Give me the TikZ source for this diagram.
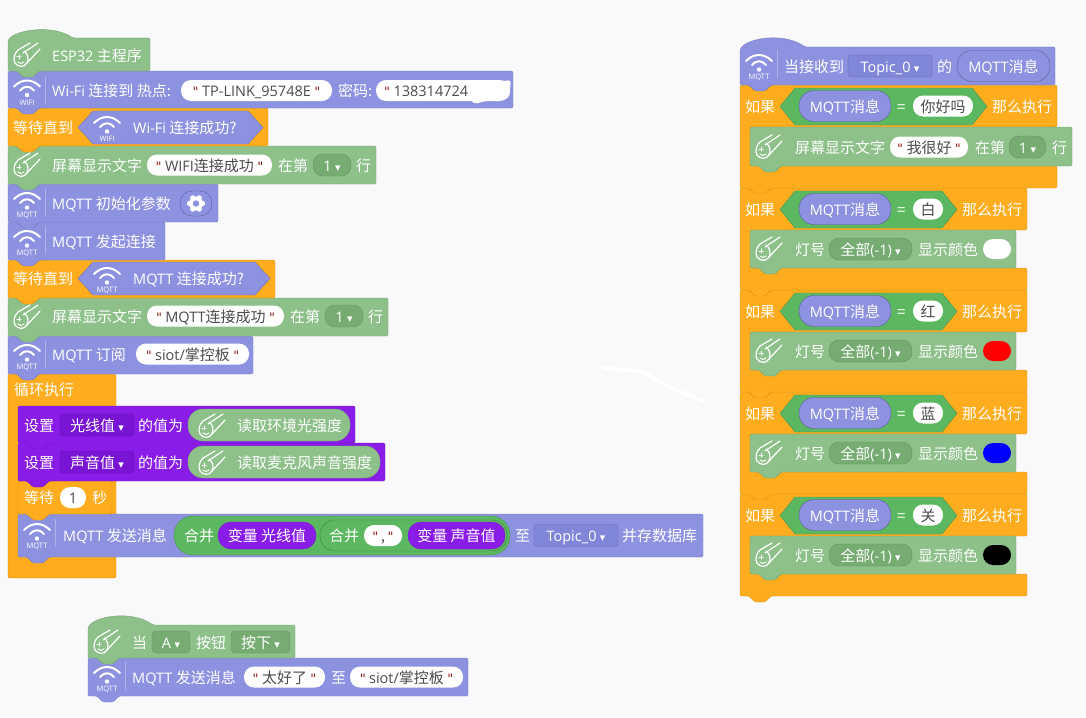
\documentclass[tikz,border=0pt]{standalone}
\usepackage{fontspec}
\setmainfont{Noto Sans CJK SC}
\newfontfamily\symfont{DejaVu Sans}
\newfontfamily\latfont{Open Sans}
\usepackage{tikz}

\definecolor{pagebg}{RGB}{249,249,251}
\definecolor{greenblk}{RGB}{141,193,137}
\definecolor{greenmenu}{RGB}{118,172,113}
\definecolor{blueblk}{RGB}{140,146,224}
\definecolor{bluemenu}{RGB}{128,134,216}
\definecolor{orangeblk}{RGB}{255,173,30}
\definecolor{purpleblk}{RGB}{138,28,232}
\definecolor{purplemenu}{RGB}{122,20,212}
\definecolor{hexgreen}{RGB}{92,184,96}
\definecolor{fieldtext}{RGB}{75,75,80}
\definecolor{quotemark}{RGB}{150,30,30}

\tikzset{
	tb/.style={inner sep=0pt,text height=13pt,text depth=1pt},
	lbl/.style={tb,anchor=west,text=white},
	field/.style={tb,fill=white,text=fieldtext,rounded corners=10pt,minimum height=21pt},
	gmenu/.style={tb,fill=greenmenu,draw=greenmenu!85!black,text=white,rounded corners=10pt,minimum height=22pt},
	bmenu/.style={tb,fill=bluemenu,draw=bluemenu!80!black,text=white,rounded corners=3pt,minimum height=22pt},
	pmenu/.style={tb,fill=purplemenu,draw=purplemenu!80!black,text=white,rounded corners=3pt,minimum height=22pt},
	bpill/.style={tb,fill=blueblk,draw=bluemenu!70!black,text=white,rounded corners=15pt,minimum height=31pt},
	gpill/.style={tb,fill=greenblk,draw=greenmenu,text=white,rounded corners=15pt,minimum height=32pt},
	ppill/.style={tb,fill=purpleblk,draw=purplemenu,text=white,rounded corners=13pt,minimum height=27pt},
	icon/.style={white,line cap=round,line join=round},
}

% latin words, field text with its two quote marks, menu arrow
\newcommand{\la}[1]{{\latfont\fontsize{14.5}{17}\selectfont #1}}
\newcommand{\qm}{{\symfont\fontsize{13}{13}\selectfont\color{quotemark}"}}
\newcommand{\qt}[1]{\qm\ #1\ \qm}
\newcommand{\dn}{{\symfont\fontsize{11}{11}\selectfont ▾}}

% stack block: colour, x1, y1, x2, y2
\newcommand{\stackblock}[5]{
	\draw[fill=#1,draw=#1!85!black,rounded corners=1.5pt] (#2,#3) -- (#4,#3) -- (#4,#5) -- (#2+31,#5) -- (#2+25,#5+6) -- (#2+15,#5+6) -- (#2+9,#5) -- (#2,#5) -- cycle;
}
% hat block: colour, x1, top of hat, y1, x2, y2
\newcommand{\hatblock}[6]{
	\draw[fill=#1,draw=#1!85!black,rounded corners=1.5pt] (#2,#4+3) .. controls (#2+6,#3+2) and (#2+44,#3-4) .. (#2+65,#4) -- (#5,#4) -- (#5,#6) -- (#2+31,#6) -- (#2+25,#6+6) -- (#2+15,#6+6) -- (#2+9,#6) -- (#2,#6) -- cycle;
}
% c-shaped block: colour, x1, y1, x2, end of top bar, start of bottom bar, y2
\newcommand{\cblock}[7]{
	\draw[fill=#1,draw=#1!85!black,rounded corners=1.5pt] (#2,#3) -- (#4,#3) -- (#4,#5) -- (#2+10,#5) -- (#2+10,#6) -- (#4,#6) -- (#4,#7) -- (#2+31,#7) -- (#2+25,#7+6) -- (#2+15,#7+6) -- (#2+9,#7) -- (#2,#7) -- cycle;
}
% hexagon: colour, x1, x2, y1, y2
\newcommand{\hexbox}[5]{
	\draw[fill=#1,draw=#1!80!black] (#2,{(#4+#5)/2}) -- (#2+15,#4) -- (#3-15,#4) -- (#3,{(#4+#5)/2}) -- (#3-15,#5) -- (#2+15,#5) -- cycle;
}
% rounded chip from x1 to x2: [style], name, x1, x2, y, text
\newcommand{\chip}[6][field]{
	\pgfmathsetmacro{\chipw}{#4-#3}
	\pgfmathsetmacro{\chipx}{(#4+#3)/2}
	\node[#1,minimum width=\chipw pt] (#2) at (\chipx,#5) {#6};
}
% wifi icon: name, x, y, small label, 1 to draw the divider
\newcommand{\wifiicon}[5]{
	\begin{scope}[shift={(#2,#3)}]
		\draw[icon,line width=2pt] (-13,-3) .. controls (-5,-11) and (5,-11) .. (13,-3);
		\draw[icon,line width=2pt] (-7,1) .. controls (-3,-4) and (3,-4) .. (7,1);
		\fill[white] (0,5.5) circle (2.2);
		\node[inner sep=0pt,text=white,font=\latfont\fontsize{7.5}{8}\selectfont] (#1) at (0,13) {#4};
		\ifnum#5=1 \draw[white,opacity=.3] (18,-14) -- (18,14); \fi
	\end{scope}
}
% comet icon: name, x, y
\newcommand{\cometicon}[3]{
	\begin{scope}[shift={(#2,#3)}]
		\draw[icon,line width=1.2pt] (3,-12) -- (-9,-5) .. controls (-13,-1) and (-14,4) .. (-12,8) .. controls (-9,12) and (-3,13) .. (0,8) -- (13,-6);
		\draw[icon,line width=1.2pt] (-4,-2) -- (11,-12);
		\draw[icon,line width=1.2pt] (-3,-4) .. controls (1,-1) and (2,3) .. (0,8);
		\draw[icon,line width=1pt] (-10,2) -- (-6,2) (-8,0) -- (-8,4);
		\draw[icon,line width=1pt] (-9,7) .. controls (-7,9) and (-5,9) .. (-3,7);
		\coordinate (#1) at (0,0);
	\end{scope}
}

\begin{document}
\begin{tikzpicture}[x=1pt,y=-1pt,font=\fontsize{15}{17}\selectfont]
\useasboundingbox[fill=pagebg] (0,0) rectangle (1086,717);
\draw[white,line width=4pt,line cap=round,line join=round] (604,368) -- (640,371) -- (675,390) -- (704,401);

%the loop at the end of the main program
\draw[fill=orangeblk,draw=orangeblk!85!black,rounded corners=1.5pt] (8,374) rectangle (116,578);
\node[lbl] (looptxt) at (14,389) {循环执行};

\stackblock{blueblk}{18}{514}{703}{557}
\wifiicon{sendlbl}{37}{533}{MQTT}{1}
\node[lbl] (sendtxt) at (63,535) {\la{MQTT} 发送消息};
\chip[gpill,fill=hexgreen,draw=hexgreen!80!black,minimum height=39pt,rounded corners=19pt]{joinout}{174}{510}{535.5}{}
\node[lbl] (jointxt) at (184,535) {合并};
\chip[ppill]{lightvar}{218}{316}{535.5}{变量 光线值}
\chip[gpill,fill=hexgreen,draw=hexgreen!70!black,minimum height=31pt]{joinin}{320}{507}{535.5}{}
\node[lbl] (joinintxt) at (329,535) {合并};
\chip{comma}{364}{402}{535.5}{\qm\,,\,\qm}
\chip[ppill]{soundvar}{408}{505}{535.5}{变量 声音值}
\node[lbl] (totxt) at (515,535) {至};
\chip[bmenu]{topicmenu}{534}{618}{535.5}{\la{Topic\_0} \dn}
\node[lbl] (savetxt) at (622,535) {并存数据库};

\stackblock{orangeblk}{18}{481}{112}{514}
\node[lbl] (waittxt) at (24,497) {等待};
\chip{waitnum}{60}{86}{497.5}{\la{1}}
\node[lbl] (sectxt) at (92,497) {秒};

\stackblock{purpleblk}{18}{443}{385}{481}
\node[lbl] (set2txt) at (24,462) {设置};
\chip[pmenu]{set2menu}{60}{134}{462}{声音值 \dn}
\node[lbl] (to2txt) at (138,462) {的值为};
\chip[gpill]{micpill}{188}{380}{462}{}
\cometicon{micicon}{212}{463}
\node[lbl] (mictxt) at (237,462) {读取麦克风声音强度};

\stackblock{purpleblk}{18}{406}{355}{443}
\node[lbl] (set1txt) at (24,425) {设置};
\chip[pmenu]{set1menu}{60}{134}{425}{光线值 \dn}
\node[lbl] (to1txt) at (138,425) {的值为};
\chip[gpill]{lightpill}{188}{350}{425}{}
\cometicon{lighticon}{212}{426}
\node[lbl] (lighttxt) at (237,425) {读取环境光强度};

%main program, from bottom to top so the notches stay on top
\stackblock{blueblk}{8}{336}{253}{374}
\wifiicon{sublbl}{27}{354}{MQTT}{1}
\node[lbl] (subtxt) at (52,354) {\la{MQTT} 订阅};
\chip{subtopic}{136}{249}{354}{\qt{\la{siot/}掌控板}}

\stackblock{greenblk}{8}{298}{388}{336}
\cometicon{scr2icon}{27}{317}
\node[lbl] (scr2txt) at (52,316) {屏幕显示文字};
\chip{scr2field}{147}{284}{316}{\qt{\la{MQTT}连接成功}}
\node[lbl] (scr2at) at (290,316) {在第};
\chip[gmenu]{scr2menu}{325}{363}{316}{\la{1} \dn}
\node[lbl] (scr2row) at (368,316) {行};

\stackblock{orangeblk}{8}{260}{275}{298}
\node[lbl] (wait2txt) at (13,278) {等待直到};
\hexbox{blueblk}{78}{270}{262}{295}
\wifiicon{wait2lbl}{107}{277}{MQTT}{0}
\node[lbl] (wait2q) at (133,278) {\la{MQTT} 连接成功?};

\stackblock{blueblk}{8}{222}{165}{260}
\wifiicon{connlbl}{27}{240}{MQTT}{1}
\node[lbl] (conntxt) at (52,241) {\la{MQTT} 发起连接};

\stackblock{blueblk}{8}{184}{218}{222}
\wifiicon{initlbl}{27}{202}{MQTT}{1}
\node[lbl] (inittxt) at (52,203) {\la{MQTT} 初始化参数};
\chip[bpill,minimum height=25pt,rounded corners=12pt]{gearpill}{180}{212}{203.5}{}
\foreach \a in {0,60,...,300}{
	\fill[white] (196,203.5) ++(\a:6.5) circle (2.6);
}
\fill[white] (196,203.5) circle (7);
\fill[blueblk] (196,203.5) circle (3.2);

\stackblock{greenblk}{8}{146}{376}{184}
\cometicon{scr1icon}{27}{165}
\node[lbl] (scr1txt) at (52,165) {屏幕显示文字};
\chip{scr1field}{147}{272}{165}{\qt{\la{WIFI}连接成功}}
\node[lbl] (scr1at) at (278,165) {在第};
\chip[gmenu]{scr1menu}{313}{351}{165}{\la{1} \dn}
\node[lbl] (scr1row) at (356,165) {行};

\stackblock{orangeblk}{8}{108}{268}{146}
\node[lbl] (wait1txt) at (13,127) {等待直到};
\hexbox{blueblk}{78}{263}{111}{144}
\wifiicon{wait1lbl}{107}{126}{WIFI}{0}
\node[lbl] (wait1q) at (133,127) {\la{Wi-Fi} 连接成功?};

\stackblock{blueblk}{8}{71}{513}{108}
\wifiicon{wifilbl}{27}{89.5}{WIFI}{1}
\node[lbl] (wifitxt) at (52,90) {\la{Wi-Fi} 连接到 热点:};
\chip{ssid}{181}{332}{90.5}{\qt{\la{TP-LINK\_95748E}}}
\node[lbl] (pwdtxt) at (338,90) {密码:};
\chip{pwd}{376}{510}{90.5}{}
\node[lbl,text=fieldtext] (pwdval) at (384,90) {\qm\ \la{138314724}};
\fill[white,rounded corners=3pt] (470,86) -- (488,83) -- (511,80) -- (509,98) -- (490,100) -- (474,104) -- (468,96) -- cycle;

\hatblock{greenblk}{8}{28}{38}{150}{71}
\cometicon{espicon}{27}{55}
\node[lbl] (esptxt) at (52,55) {\la{ESP32} 主程序};

%button script at the bottom
\stackblock{blueblk}{88}{658}{468}{696}
\wifiicon{btnlbl}{107}{676}{MQTT}{1}
\node[lbl] (btntxt) at (132,677) {\la{MQTT} 发送消息};
\chip{btnmsg}{244}{325}{677}{\qt{太好了}}
\node[lbl] (btnto) at (331,677) {至};
\chip{btntopic}{350}{463}{677}{\qt{\la{siot/}掌控板}}

\hatblock{greenblk}{88}{614}{625}{295}{658}
\cometicon{hatbtnicon}{107}{642}
\node[lbl] (whentxt) at (132,642) {当};
\chip[gmenu,rounded corners=4pt]{amenu}{152}{190}{642}{\la{A} \dn}
\node[lbl] (btnword) at (196,642) {按钮};
\chip[gmenu,rounded corners=4pt]{pressmenu}{231}{290}{642}{按下 \dn}

%the four colour checks on the right
\foreach \ytop/\word/\lamp/\nm in {494/关/black/e,392/蓝/blue/d,290/红/red/c,188/白/white/b}{
	\pgfmathsetmacro{\ya}{\ytop+42}
	\pgfmathsetmacro{\yb}{\ytop+80}
	\pgfmathsetmacro{\yc}{\ytop+102}
	\pgfmathsetmacro{\ym}{\ytop+21}
	\pgfmathsetmacro{\yh}{\ytop+3}
	\pgfmathsetmacro{\yk}{\ytop+40}
	\pgfmathsetmacro{\yn}{\ytop+61}
	\cblock{orangeblk}{740}{\ytop}{1027}{\ya}{\yb}{\yc}
	\node[lbl] (if\nm) at (745,\ym) {如果};
	\hexbox{hexgreen}{780}{957}{\yh}{\yk}
	\chip[bpill]{msg\nm}{799}{891}{\ym}{\la{MQTT}消息}
	\node[lbl] (eq\nm) at (897,\ym) {=};
	\chip{word\nm}{913}{943}{\ym}{\word}
	\node[lbl] (then\nm) at (962,\ym) {那么执行};
	\stackblock{greenblk}{750}{\ya}{1016}{\yb}
	\cometicon{lamp\nm}{769}{\yn}
	\node[lbl] (no\nm) at (795,\yn) {灯号};
	\chip[gmenu]{all\nm}{829}{912}{\yn}{全部\la{(-1)} \dn}
	\node[lbl] (show\nm) at (918,\yn) {显示颜色};
	\chip[field,fill=\lamp,minimum height=20pt]{col\nm}{983}{1011}{\yn}{}
}

%first check and the receive hat
\cblock{orangeblk}{740}{85}{1057}{127}{166}{188}
\node[lbl] (ifa) at (745,106) {如果};
\hexbox{hexgreen}{780}{987}{88}{125}
\chip[bpill]{msga}{799}{891}{106}{\la{MQTT}消息}
\node[lbl] (eqa) at (897,106) {=};
\chip{worda}{913}{973}{106}{你好吗}
\node[lbl] (thena) at (992,106) {那么执行};
\stackblock{greenblk}{750}{127}{1072}{166}
\cometicon{scr3icon}{769}{147}
\node[lbl] (scr3txt) at (795,147) {屏幕显示文字};
\chip{scr3field}{890}{968}{147}{\qt{我很好}}
\node[lbl] (scr3at) at (975,147) {在第};
\chip[gmenu]{scr3menu}{1009}{1046}{147}{\la{1} \dn}
\node[lbl] (scr3row) at (1052,147) {行};

\hatblock{blueblk}{740}{36}{47}{1055}{85}
\wifiicon{recvlbl}{759}{64}{MQTT}{1}
\node[lbl] (recvtxt) at (784,66) {当接收到};
\chip[bmenu]{recvmenu}{848}{932}{66}{\la{Topic\_0} \dn}
\node[lbl] (oftxt) at (937,66) {的};
\chip[bpill]{recvmsg}{957}{1050}{66}{\la{MQTT}消息}
\end{tikzpicture}
\end{document}
